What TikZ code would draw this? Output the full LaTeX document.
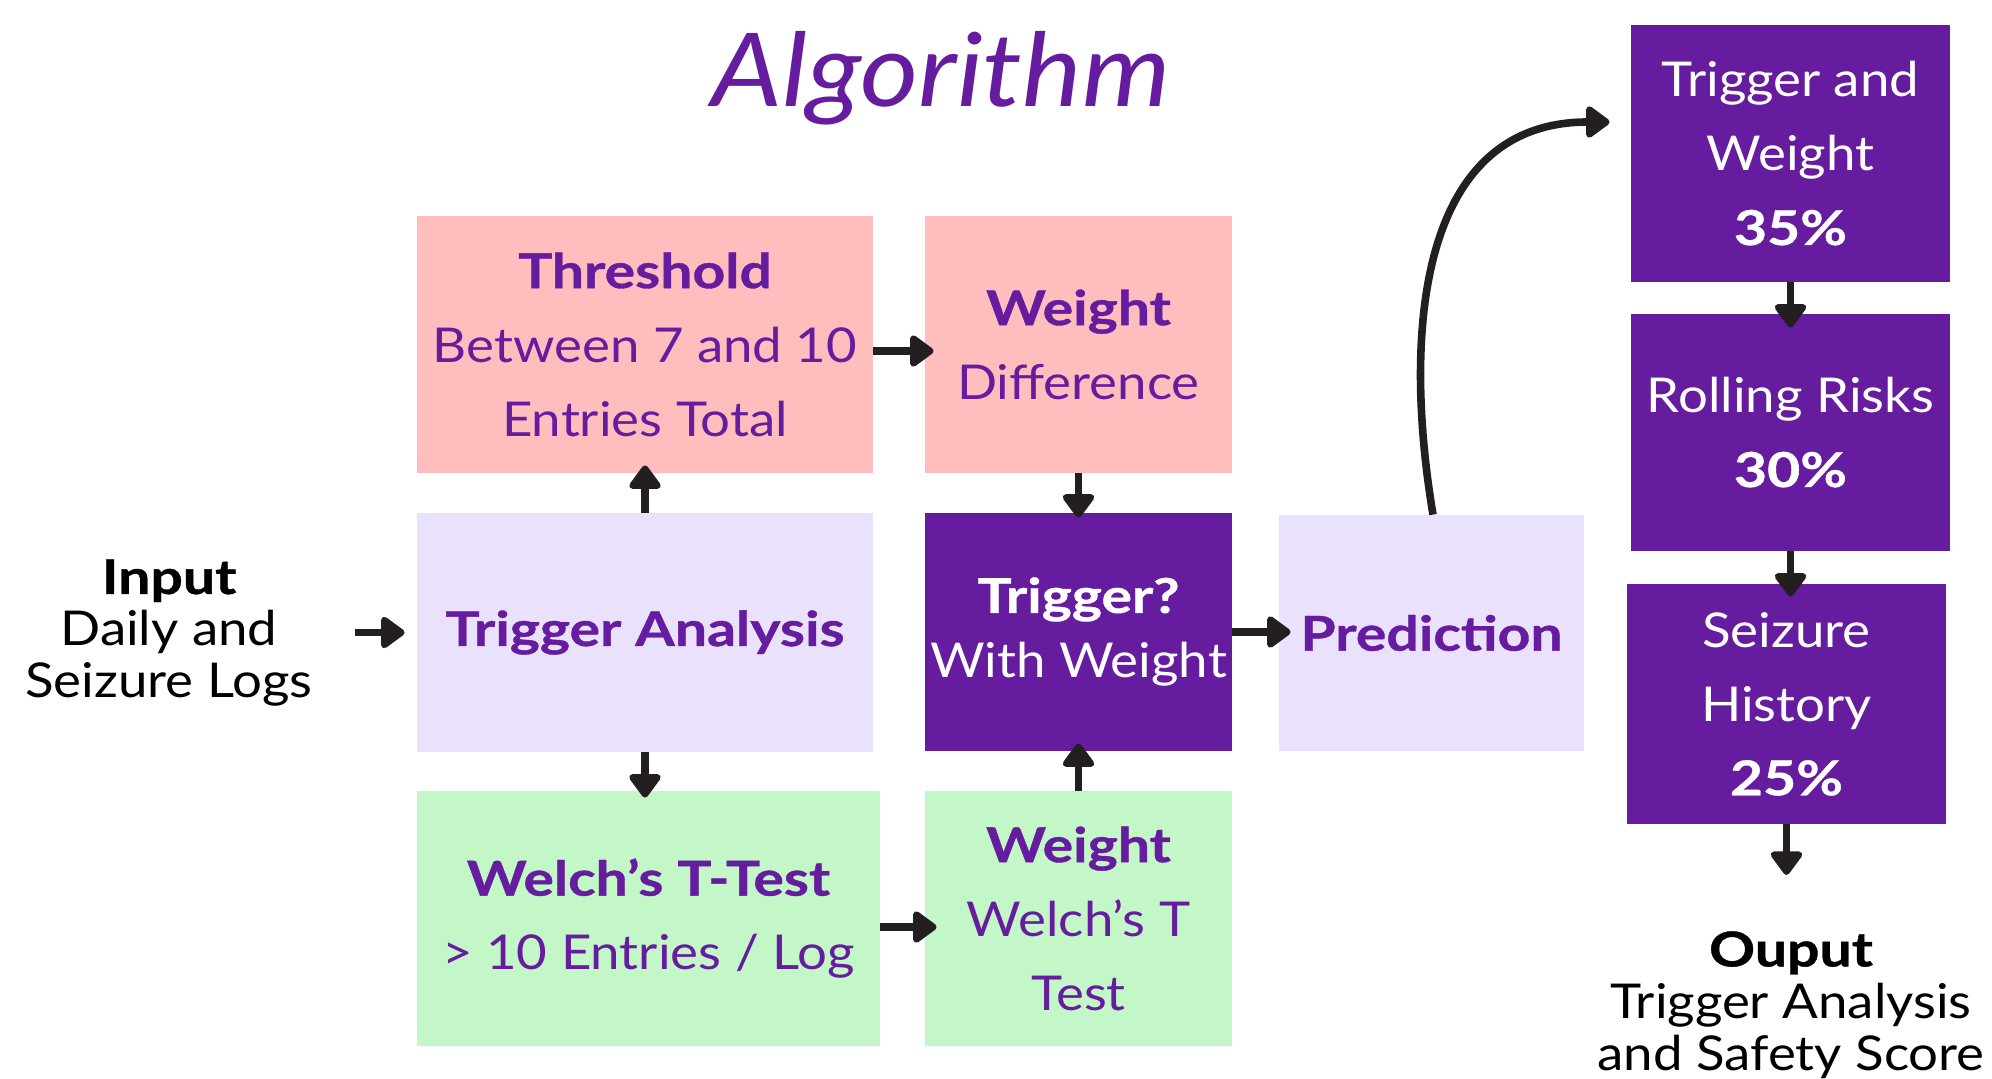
\documentclass[tikz,border=0pt]{standalone}
\usepackage{fontspec}
\setmainfont{Lato}[FakeStretch=1.1, BoldFeatures={FakeStretch=1.19, FakeBold=0.8}]
\usetikzlibrary{arrows.meta}
\definecolor{pinkbox}{HTML}{FFBDBD}
\definecolor{lavbox}{HTML}{EAE2FC}
\definecolor{greenbox}{HTML}{C3F7C7}
\definecolor{purp}{HTML}{661C9F}
\definecolor{arrowc}{HTML}{231F20}
\tikzset{
  box/.style={rectangle, inner sep=0pt, align=center, text=purp, font=\fontsize{24}{37}\selectfont},
  pinkb/.style={box, fill=pinkbox},
  lavb/.style={box, fill=lavbox},
  greenb/.style={box, fill=greenbox},
  darkb/.style={box, fill=purp, text=white},
  plain/.style={inner sep=0pt, align=center, text=black, font=\fontsize{24}{26}\selectfont},
  arr/.style={draw=arrowc, line width=3.8pt, -{Triangle[round, width=18pt, length=13pt]}},
}
\begin{document}
\begin{tikzpicture}[x=0.5pt, y=-0.5pt]
\useasboundingbox (0,0) rectangle (1992,1079);
\fill[white] (0,0) rectangle (1992,1079);

\node[anchor=base, text=purp, font=\fontsize{51}{60}\selectfont\itshape, inner sep=0pt] (title) at (941,107) {Algorithm};

\node[pinkb, minimum width=228pt, minimum height=128.5pt] (thr) at (645,344.5)
  {\textbf{Threshold}\\Between 7 and 10\\Entries Total};
\node[pinkb, minimum width=153.5pt, minimum height=128.5pt] (wd) at (1078.5,344.5)
  {\textbf{Weight}\\Difference};
\node[lavb, minimum width=228pt, minimum height=119.5pt] (ta) at (645,632.5)
  {\textbf{Trigger Analysis}};
\node[darkb, minimum width=153.5pt, minimum height=119pt, font=\fontsize{24}{32.5}\selectfont] (trg) at (1078.5,632)
  {\textbf{Trigger?}\\With Weight};
\node[lavb, minimum width=152.5pt, minimum height=118pt] (pred) at (1431.5,633)
  {\textbf{Prediction}};
\node[greenb, minimum width=231.5pt, minimum height=127.5pt] (wt) at (648.5,918.5)
  {\textbf{Welch’s T-Test}\\> 10 Entries / Log};
\node[greenb, minimum width=153.5pt, minimum height=127.5pt] (ww) at (1078.5,918.5)
  {\textbf{Weight}\\Welch’s T\\Test};
\node[darkb, minimum width=159.5pt, minimum height=128.5pt] (tw) at (1790.5,153.5)
  {Trigger and\\Weight\\\textbf{35\%}};
\node[darkb, minimum width=159.5pt, minimum height=118.5pt] (rr) at (1790.5,432.5)
  {Rolling Risks\\\textbf{30\%}};
\node[darkb, minimum width=159.5pt, minimum height=120pt] (sh) at (1786.5,704)
  {Seizure\\History\\\textbf{25\%}};

\node[plain] (in) at (169,633) {\textbf{Input}\\Daily and\\Seizure Logs};
\node[plain] (out) at (1791,1005) {\textbf{Ouput}\\Trigger Analysis\\and Safety Score};

\draw[arr, shorten <=21pt, shorten >=6pt] (in.east |- ta.west) -- (ta.west);
\draw[arr, shorten >=-4pt] (ta.north) -- (thr.south);
\draw[arr, shorten >=-3.5pt] (ta.south) -- (ta.south |- wt.north);
\draw[arr, shorten >=-4.5pt] ([yshift=-3.25pt]thr.east) -- ([yshift=-3.25pt]thr.east -| wd.west);
\draw[arr, shorten >=-2.5pt] (wd.south) -- (trg.north);
\draw[arr, shorten >=-4pt] (ww.north) -- (trg.south);
\draw[arr, shorten >=-6pt] ([yshift=-4.25pt]wt.east) -- ([yshift=-4.25pt]wt.east -| ww.west);
\draw[arr, shorten >=-6pt] (trg.east) -- (trg.east -| pred.west);
\draw[arr, shorten >=-7pt] (tw.south) -- (rr.north);
\draw[arr, shorten >=-6.5pt] (rr.south) -- (rr.south |- sh.north);
\draw[arr, shorten >=28pt] (sh.south) -- (sh.south |- out.north);
\draw[arr] ([xshift=0.75pt]pred.north) .. controls (1402,330) and (1420,122) .. ([xshift=-10.5pt,yshift=15.75pt]tw.west);
\end{tikzpicture}
\end{document}
